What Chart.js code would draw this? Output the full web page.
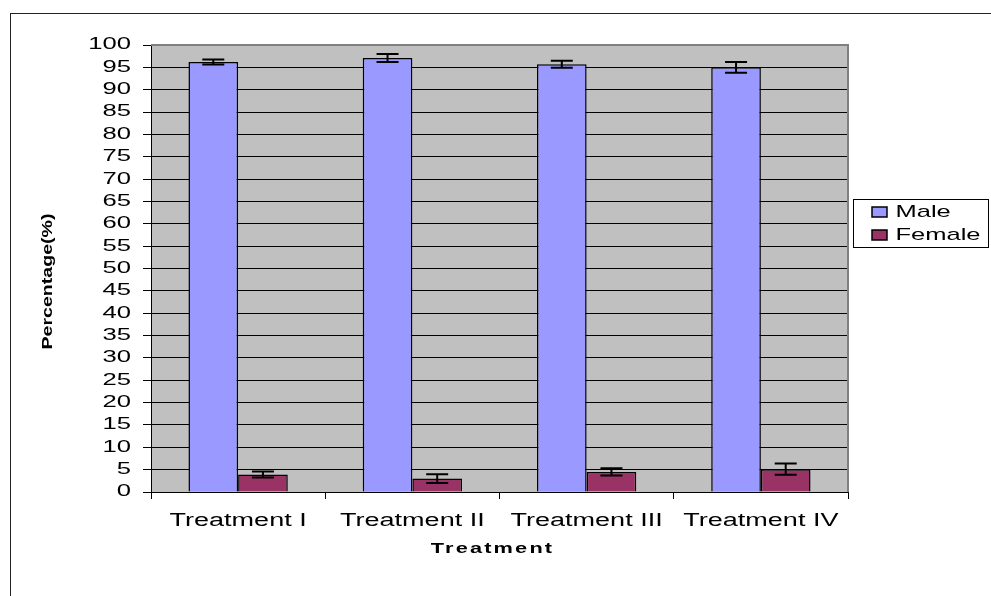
<!DOCTYPE html>
<html><head><meta charset="utf-8">
<script src="https://cdn.jsdelivr.net/npm/chart.js@4.4.1/dist/chart.umd.min.js"></script>
<style>html,body{margin:0;padding:0;background:#fff;overflow:hidden}canvas{display:block}</style>
</head><body>
<canvas id="c" width="991" height="596"></canvas>
<script>
// ---- data ----
const categories = ['Treatment I', 'Treatment II', 'Treatment III', 'Treatment IV'];
const seriesNames = ['Male', 'Female'];
const maleValues = [96.2, 97.1, 95.7, 95.0];
const maleErrors = [0.55, 0.9, 0.8, 1.2];
const femaleValues = [3.9, 3.0, 4.5, 5.1];
const femaleErrors = [0.68, 0.96, 0.82, 1.25];
const yMin = 0, yMax = 100, yStep = 5;
const xTitle = 'Treatment';
const yTitle = 'Percentage(%)';

// ---- styles / layout ----
const FONT = '"Liberation Sans", Arial, sans-serif';
const LEGEND_WIDTH = 143;
const LEGEND_GAP = 18;
const LEGEND_TOP = 197.5;

// wide (horizontally stretched) text rendering, like the original
function patchContext(ctx) {
  if (ctx.__patched) return;
  const proto = CanvasRenderingContext2D.prototype;
  ctx.__sx = 1;
  ctx.fillText = function (t, x, y, mw) {
    const k = this.__sx || 1;
    if (k === 1) return mw === undefined ? proto.fillText.call(this, t, x, y) : proto.fillText.call(this, t, x, y, mw);
    this.save();
    this.translate(x, y);
    this.scale(k, 1);
    if (mw === undefined) proto.fillText.call(this, t, 0, 0);
    else proto.fillText.call(this, t, 0, 0, mw / k);
    this.restore();
  };
  ctx.measureText = function (t) {
    const m = proto.measureText.call(this, t);
    const k = this.__sx || 1;
    if (k === 1) return m;
    return {
      width: m.width * k,
      actualBoundingBoxAscent: m.actualBoundingBoxAscent,
      actualBoundingBoxDescent: m.actualBoundingBoxDescent,
      actualBoundingBoxLeft: m.actualBoundingBoxLeft * k,
      actualBoundingBoxRight: m.actualBoundingBoxRight * k
    };
  };
  ctx.__patched = true;
}

function wrap(obj, method, opt) {
  const orig = obj[method];
  if (!orig || orig.__wrapped) return;
  const w = function (...args) {
    const ctx = this.ctx;
    const prevK = ctx.__sx, prevS = ctx.letterSpacing;
    ctx.__sx = opt.k || 1;
    if (opt.sp) ctx.letterSpacing = opt.sp;
    const shift = opt.dx || opt.dy;
    if (shift) { ctx.save(); ctx.translate(opt.dx || 0, opt.dy || 0); }
    const r = orig.apply(this, args);
    if (shift) ctx.restore();
    ctx.__sx = prevK;
    if (opt.sp) ctx.letterSpacing = prevS === undefined ? '0px' : prevS;
    if (opt.after) opt.after.call(this);
    return r;
  };
  w.__wrapped = true;
  obj[method] = w;
}

const stylePlugin = {
  id: 'stylePlugin',
  beforeInit(chart) { patchContext(chart.ctx); },
  beforeLayout(chart) {
    wrap(chart.scales.y, 'drawLabels', { k: 1.6 });
    wrap(chart.scales.x, 'drawLabels', { k: 1.5 });
    wrap(chart.scales.y, 'drawTitle', { k: 1.4, dy: 13 });
    wrap(chart.scales.x, 'drawTitle', { k: 1.45, sp: '1.5px', dx: -7 });
    wrap(chart.legend, 'draw', { k: 1.5 });
    wrap(chart.legend, 'fit', { k: 1.5, after: function () { this.width = LEGEND_WIDTH; } });
  },
  afterLayout(chart) {
    const lg = chart.legend, a = chart.chartArea;
    const dx = (a.right + LEGEND_GAP) - lg.left;
    lg.left += dx; lg.right += dx;
    const h = lg.bottom - lg.top;
    lg.top = LEGEND_TOP; lg.bottom = LEGEND_TOP + h;
  },
  beforeDraw(chart) {
    const ctx = chart.ctx, a = chart.chartArea;
    ctx.save();
    ctx.fillStyle = '#fff';
    ctx.fillRect(0, 0, chart.width, chart.height);
    ctx.strokeStyle = '#222';
    ctx.lineWidth = 1;
    ctx.strokeRect(10.5, 13.5, chart.width + 20, chart.height + 20);
    ctx.fillStyle = '#C0C0C0';
    ctx.fillRect(a.left, a.top, a.right - a.left, a.bottom - a.top);
    ctx.restore();
  },
  beforeDatasetsDraw(chart) {
    const ctx = chart.ctx, a = chart.chartArea;
    ctx.save();
    ctx.strokeStyle = '#808080';
    ctx.lineWidth = 2;
    ctx.beginPath();
    ctx.moveTo(a.left, a.top);
    ctx.lineTo(a.right, a.top);
    ctx.lineTo(a.right, a.bottom);
    ctx.stroke();
    ctx.restore();
  },
  afterDatasetsDraw(chart) {
    const ctx = chart.ctx, y = chart.scales.y;
    const errs = [maleErrors, femaleErrors];
    ctx.save();
    ctx.strokeStyle = '#000';
    ctx.lineWidth = 2;
    chart.data.datasets.forEach((ds, i) => {
      const meta = chart.getDatasetMeta(i);
      meta.data.forEach((bar, j) => {
        const v = ds.data[j], e = errs[i][j];
        const yt = y.getPixelForValue(v + e), yb = y.getPixelForValue(v - e);
        const x = bar.x, cap = 11;
        ctx.beginPath();
        ctx.moveTo(x, yt); ctx.lineTo(x, yb);
        ctx.moveTo(x - cap, yt); ctx.lineTo(x + cap, yt);
        ctx.moveTo(x - cap, yb); ctx.lineTo(x + cap, yb);
        ctx.stroke();
      });
    });
    ctx.restore();
  },
  afterDraw(chart) {
    const hb = chart.legend.legendHitBoxes;
    if (!hb || !hb.length) return;
    const ctx = chart.ctx;
    const left = Math.min(...hb.map(b => b.left)) - 19;
    const right = Math.max(...hb.map(b => b.left + b.width)) + 7.5;
    const top = hb[0].top - 4.5;
    const last = hb[hb.length - 1];
    const bottom = last.top + last.height + 3.5;
    ctx.save();
    ctx.strokeStyle = '#000';
    ctx.lineWidth = 1;
    ctx.strokeRect(Math.round(left) + 0.5, Math.round(top) + 0.5, Math.round(right - left), Math.round(bottom - top));
    ctx.restore();
  }
};

new Chart(document.getElementById('c'), {
  type: 'bar',
  data: {
    labels: categories,
    datasets: [
      { label: seriesNames[0], data: maleValues, backgroundColor: '#9999FF', borderColor: '#000', borderWidth: 1.5 },
      { label: seriesNames[1], data: femaleValues, backgroundColor: '#993366', borderColor: '#000', borderWidth: 1.5 }
    ]
  },
  options: {
    responsive: false,
    animation: false,
    devicePixelRatio: 1,
    layout: { padding: { left: 0, top: 45, right: 0, bottom: 0 } },
    datasets: { bar: { categoryPercentage: 0.57, barPercentage: 1.0 } },
    plugins: {
      legend: {
        position: 'right',
        align: 'start',
        labels: { boxWidth: 15, boxHeight: 10, padding: 6, color: '#000', font: { family: FONT, size: 17 } }
      },
      tooltip: { enabled: false }
    },
    scales: {
      x: {
        grid: { display: true, drawOnChartArea: false, drawTicks: true, tickLength: 7, color: '#000', offset: true, lineWidth: 1 },
        border: { display: true, color: '#000', width: 1 },
        ticks: { color: '#000', font: { family: FONT, size: 18 }, padding: 11, maxRotation: 0, autoSkip: false },
        title: { display: true, text: xTitle, color: '#000', font: { family: FONT, size: 15, weight: 'bold' }, padding: { top: 4, bottom: 38 } },
        afterFit(s) { s.height = 104; }
      },
      y: {
        min: yMin, max: yMax,
        ticks: { stepSize: yStep, color: '#000', font: { family: FONT, size: 16 }, padding: 12 },
        grid: { color: '#000', lineWidth: 1, tickLength: 8, drawTicks: true },
        border: { color: '#000', width: 1 },
        title: { display: true, text: yTitle, color: '#000', font: { family: FONT, size: 14, weight: 'bold' }, padding: { top: 40, bottom: 0 } },
        afterFit(s) { s.width = 151; }
      }
    }
  },
  plugins: [stylePlugin]
});
</script>
</body></html>
